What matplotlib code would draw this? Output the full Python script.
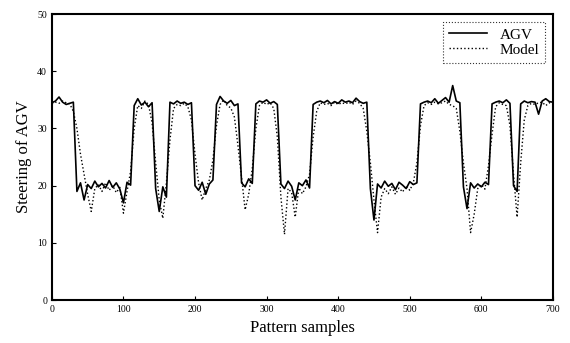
import numpy as np
import matplotlib.pyplot as plt

plt.rcParams['font.family'] = ['Liberation Serif', 'DejaVu Serif']

# sampled every 5 pattern samples, 0..700
agv = [34.5, 34.8, 35.5, 34.6, 34.2, 34.4, 34.6,
       19.0, 20.5, 17.5, 20.2, 19.5, 20.8, 19.8, 20.4, 19.6, 20.9, 19.7, 20.5, 19.4, 17.0, 20.6, 20.1,
       34.0, 35.2, 34.1, 34.6, 33.8, 34.5,
       19.5, 15.5, 19.8, 18.0,
       34.6, 34.3, 34.8, 34.4, 34.6, 34.2, 34.5,
       20.0, 19.2, 20.6, 18.5, 20.3, 21.0,
       34.2, 35.6, 34.8, 34.4, 34.9, 34.0, 34.3,
       20.5, 19.8, 21.2, 20.4,
       34.3, 34.8, 34.6, 35.0, 34.4, 34.7, 34.2,
       20.3, 19.5, 20.8, 19.9, 17.5, 20.5, 20.0, 21.0, 19.6,
       34.2, 34.6, 34.8, 34.5, 34.9, 34.3, 34.7, 34.4, 35.0, 34.6, 34.8, 34.5, 35.3, 34.7, 34.4, 34.6,
       19.5, 14.0, 20.3, 19.6, 20.8, 19.9, 20.4, 19.3, 20.6, 20.1, 19.5, 20.7, 20.2, 20.5,
       34.3, 34.6, 34.8, 34.5, 35.2, 34.4, 34.9, 35.4, 34.6, 37.5, 34.8, 34.5,
       19.8, 16.0, 20.5, 19.6, 20.3, 19.8, 20.6, 20.2,
       34.3, 34.6, 34.8, 34.5, 35.0, 34.4,
       20.0, 19.0,
       34.3, 34.8, 34.5, 34.7, 34.6, 32.5, 34.8, 35.2, 34.7, 34.6]

model = [34.3, 34.6, 34.4, 34.8, 34.5, 34.3, 33.0,
         30.0, 25.5, 22.0, 18.5, 15.5, 19.5, 20.2, 19.0, 20.5, 19.2, 20.0, 18.8, 19.7, 15.2, 19.0, 22.5,
         30.0, 34.0, 33.5, 34.8, 34.2, 31.0,
         24.0, 17.5, 14.3, 20.5,
         28.0, 33.5, 34.2, 34.0, 34.4, 33.8, 31.5,
         25.5, 20.5, 17.5, 19.5, 21.0, 24.5,
         30.5, 34.2, 35.0, 34.0, 33.6, 32.0, 27.0,
         21.5, 15.8, 18.5, 23.0,
         30.0, 34.0, 34.6, 34.2, 34.5, 33.5, 28.5,
         18.0, 11.5, 19.5, 18.8, 14.5, 19.6, 18.6, 19.8, 22.0,
         28.5, 33.0, 34.5, 34.2, 34.4, 34.0, 34.6, 34.2, 34.5, 34.3, 34.6, 34.2, 34.8, 34.4, 33.5, 29.5,
         24.0, 17.5, 11.8, 18.0, 19.5, 18.6, 19.8, 18.5, 19.6, 18.9, 20.0, 19.2, 20.5, 24.0,
         30.5, 34.0, 34.5, 34.2, 34.6, 34.3, 34.5, 34.8, 34.2, 34.0, 33.5, 29.5,
         24.0, 19.5, 11.8, 15.0, 19.5, 20.2, 19.4, 23.5,
         29.0, 33.8, 34.5, 34.2, 34.0, 30.5,
         22.0, 14.5,
         24.0, 31.5, 34.0, 34.4, 34.2, 34.5, 34.6, 34.0, 34.5, 34.3]

samples = np.arange(0, 5 * len(agv), 5)

fig = plt.figure(figsize=(5.7, 3.43), dpi=100)
ax = fig.add_axes([0.091, 0.125, 0.879, 0.834])

ax.plot(samples, agv, color='black', lw=1.2, label='AGV')
ax.plot(samples, model, color='black', lw=1.0, ls=':', label='Model')

ax.set_xlim(0, 700)
ax.set_ylim(0, 50)
ax.set_xticks(np.arange(0, 701, 100))
ax.set_yticks(np.arange(0, 51, 10))
ax.tick_params(direction='in', labelsize=7, length=3)
for s in ax.spines.values():
    s.set_linewidth(1.5)

ax.set_xlabel('Pattern samples', fontsize=12)
ax.set_ylabel('Steering of AGV', fontsize=12)

leg = ax.legend(loc='upper right', fontsize=11, fancybox=False, handlelength=2.5,
                borderpad=0.4, labelspacing=0.1)
leg.get_frame().set_edgecolor('black')
leg.get_frame().set_linestyle(':')
leg.get_frame().set_linewidth(0.8)

fig.savefig('out.png', dpi=100)
